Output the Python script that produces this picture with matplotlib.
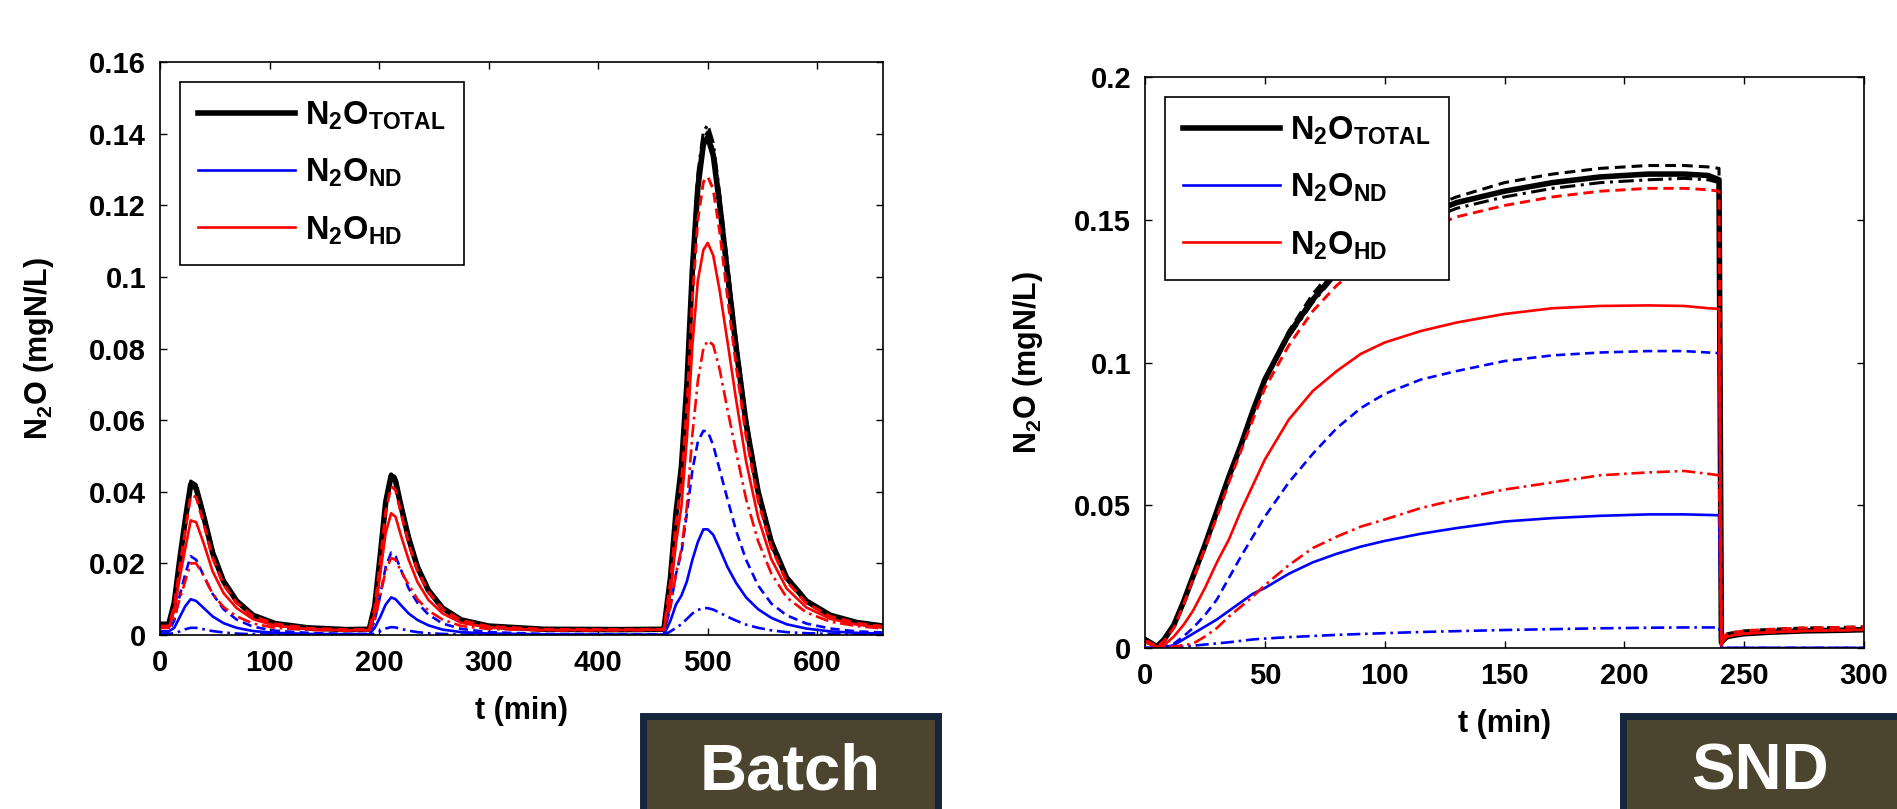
import matplotlib
matplotlib.use("Agg")
import matplotlib.pyplot as plt
from matplotlib.patches import Rectangle

plt.rcParams['font.family'] = ['Liberation Sans', 'DejaVu Sans']
plt.rcParams['font.weight'] = 'bold'
plt.rcParams['mathtext.fontset'] = 'custom'
plt.rcParams['mathtext.rm'] = 'Liberation Sans:bold'
plt.rcParams['mathtext.bf'] = 'Liberation Sans:bold'

# ---- Batch data (t in min, N2O in mgN/L) ----
t_batch = [0, 8, 13, 18, 23, 28, 33, 40, 48, 58, 70, 85, 105, 135, 170, 191, 196, 201, 206, 211,
           215, 220, 227, 235, 245, 258, 275, 300, 350, 420, 460, 466, 471, 476, 481, 486, 491, 496, 500, 505,
           511, 518, 526, 535, 546, 558, 572, 590, 612, 636, 660]

batch_total = [0.003, 0.003, 0.009, 0.021, 0.032, 0.042, 0.041, 0.033, 0.023, 0.015,
               0.0095, 0.0055, 0.0032, 0.0020, 0.0015, 0.0016, 0.008, 0.022, 0.037, 0.0445,
               0.043, 0.036, 0.027, 0.019, 0.0125, 0.0075, 0.0042, 0.0025, 0.0016, 0.0015,
               0.0016, 0.016, 0.034, 0.047, 0.070, 0.102, 0.125, 0.137, 0.139, 0.134,
               0.120, 0.101, 0.080, 0.059, 0.040, 0.026, 0.016, 0.0095, 0.0055, 0.0035, 0.0025]
batch_total_b = [0.003, 0.003, 0.009, 0.021, 0.032, 0.0425, 0.0415, 0.0335, 0.0235, 0.0153,
                 0.0097, 0.0056, 0.0033, 0.0020, 0.0015, 0.0016, 0.008, 0.022, 0.0375, 0.045,
                 0.0435, 0.0365, 0.0275, 0.0193, 0.0127, 0.0076, 0.0043, 0.0025, 0.0016, 0.0015,
                 0.0016, 0.016, 0.034, 0.047, 0.071, 0.103, 0.1265, 0.1385, 0.1405, 0.1355,
                 0.1215, 0.1025, 0.081, 0.060, 0.0405, 0.0263, 0.0162, 0.0096, 0.0056, 0.0035, 0.0025]
batch_total_c = [0.003, 0.003, 0.009, 0.021, 0.0325, 0.043, 0.042, 0.034, 0.024, 0.0155,
                 0.0098, 0.0057, 0.0033, 0.0020, 0.0015, 0.0016, 0.008, 0.0225, 0.038, 0.0455,
                 0.044, 0.037, 0.028, 0.0196, 0.0129, 0.0077, 0.0043, 0.0025, 0.0016, 0.0015,
                 0.0016, 0.016, 0.034, 0.048, 0.072, 0.105, 0.129, 0.1405, 0.1425, 0.1375,
                 0.123, 0.104, 0.0825, 0.061, 0.041, 0.0267, 0.0165, 0.0098, 0.0057, 0.0036, 0.0026]
batch_nd_a = [0.001, 0.001, 0.002, 0.005, 0.008, 0.010, 0.0095, 0.0075, 0.0052, 0.0033,
              0.002, 0.0011, 0.0006, 0.0003, 0.0002, 0.0002, 0.002, 0.005, 0.0085, 0.0105,
              0.010, 0.0083, 0.006, 0.0042, 0.0027, 0.0015, 0.0008, 0.0004, 0.0002, 0.0001,
              0.0001, 0.004, 0.0085, 0.011, 0.015, 0.021, 0.026, 0.0295, 0.0295, 0.028,
              0.024, 0.019, 0.0145, 0.0105, 0.0072, 0.0048, 0.003, 0.0018, 0.001, 0.0006, 0.0004]
batch_hd_a = [0.002, 0.002, 0.007, 0.016, 0.024, 0.032, 0.0315, 0.0255, 0.0178, 0.0117,
              0.0075, 0.0044, 0.0026, 0.0017, 0.0013, 0.0014, 0.006, 0.017, 0.0285, 0.034,
              0.033, 0.0277, 0.021, 0.0148, 0.0098, 0.006, 0.0034, 0.0021, 0.0014, 0.0014,
              0.0015, 0.012, 0.0255, 0.036, 0.055, 0.081, 0.099, 0.1075, 0.1095, 0.106,
              0.096, 0.082, 0.0655, 0.0485, 0.0328, 0.0212, 0.013, 0.0077, 0.0045, 0.0029, 0.0021]
batch_nd_b = [0.001, 0.001, 0.004, 0.011, 0.017, 0.022, 0.021, 0.0165, 0.0115, 0.0072,
              0.0043, 0.0023, 0.0012, 0.0006, 0.0003, 0.0003, 0.004, 0.011, 0.019, 0.023,
              0.022, 0.0182, 0.013, 0.009, 0.0057, 0.0032, 0.0017, 0.0008, 0.0003, 0.0002,
              0.0002, 0.008, 0.017, 0.023, 0.034, 0.046, 0.054, 0.057, 0.0568, 0.053,
              0.046, 0.038, 0.029, 0.021, 0.0138, 0.0088, 0.0055, 0.0032, 0.0018, 0.001, 0.0007]
batch_hd_b = [0.002, 0.002, 0.005, 0.010, 0.015, 0.020, 0.020, 0.0165, 0.0115, 0.0078,
              0.0052, 0.0032, 0.002, 0.0014, 0.0012, 0.0013, 0.004, 0.011, 0.018, 0.0215,
              0.021, 0.0178, 0.014, 0.010, 0.0068, 0.0043, 0.0025, 0.0017, 0.0013, 0.0013,
              0.0014, 0.008, 0.017, 0.024, 0.036, 0.056, 0.071, 0.080, 0.0822, 0.081,
              0.074, 0.063, 0.051, 0.038, 0.0262, 0.0172, 0.0105, 0.0063, 0.0037, 0.0025, 0.0018]
batch_nd_c = [0.0003, 0.0003, 0.0005, 0.001, 0.0016, 0.002, 0.002, 0.0016, 0.0011, 0.0007,
              0.0004, 0.0002, 0.0001, 0.0, 0.0, 0.0, 0.0004, 0.001, 0.0018, 0.0022,
              0.0021, 0.0017, 0.0012, 0.0008, 0.0005, 0.0003, 0.0001, 0.0, 0.0, 0.0,
              0.0, 0.001, 0.002, 0.003, 0.0045, 0.006, 0.007, 0.0075, 0.0075, 0.0071,
              0.0062, 0.0051, 0.004, 0.0029, 0.002, 0.0013, 0.0008, 0.0005, 0.0003, 0.0002, 0.0001]
batch_hd_c = [0.0025, 0.0025, 0.008, 0.019, 0.029, 0.039, 0.0385, 0.031, 0.0215, 0.014,
              0.009, 0.0052, 0.0031, 0.0019, 0.0015, 0.0016, 0.0075, 0.0205, 0.0345, 0.0415,
              0.0405, 0.034, 0.0255, 0.018, 0.012, 0.0072, 0.0041, 0.0024, 0.0016, 0.0015,
              0.0016, 0.015, 0.031, 0.043, 0.064, 0.094, 0.116, 0.1265, 0.128, 0.1245,
              0.1125, 0.0945, 0.075, 0.0555, 0.0375, 0.0245, 0.015, 0.0089, 0.0052, 0.0033, 0.0024]

# ---- SND data ----
t_snd = [0, 2, 5, 8, 12, 16, 20, 25, 30, 35, 40, 45, 50, 60, 70, 80, 90, 100, 115, 130,
         150, 170, 190, 210, 225, 235, 239.5, 240.5, 241.5, 243, 246, 250, 260, 275, 290, 300]

snd_total = [0.003, 0.002, 0.0005, 0.003, 0.008, 0.016, 0.025, 0.036, 0.048, 0.060,
             0.071, 0.083, 0.094, 0.110, 0.122, 0.132, 0.139, 0.145, 0.151, 0.156,
             0.160, 0.163, 0.165, 0.166, 0.166, 0.1655, 0.164, 0.002, 0.003, 0.004,
             0.0045, 0.005, 0.0055, 0.006, 0.0062, 0.0064]
snd_total_b = [0.003, 0.002, 0.0005, 0.003, 0.008, 0.016, 0.025, 0.036, 0.048, 0.060,
               0.071, 0.083, 0.094, 0.111, 0.124, 0.134, 0.141, 0.147, 0.153, 0.158,
               0.163, 0.166, 0.168, 0.169, 0.169, 0.1685, 0.168, 0.002, 0.004, 0.005,
               0.0055, 0.006, 0.0065, 0.007, 0.0072, 0.0074]
snd_total_c = [0.003, 0.002, 0.0005, 0.003, 0.008, 0.016, 0.025, 0.036, 0.048, 0.060,
               0.071, 0.083, 0.094, 0.109, 0.121, 0.131, 0.138, 0.143, 0.149, 0.154,
               0.158, 0.161, 0.163, 0.164, 0.1645, 0.164, 0.163, 0.002, 0.003, 0.004,
               0.0045, 0.005, 0.0055, 0.006, 0.0062, 0.0064]
snd_nd_a = [0.0, 0.0, 0.0, 0.0002, 0.001, 0.003, 0.005, 0.0075, 0.010, 0.013,
            0.016, 0.019, 0.021, 0.026, 0.030, 0.033, 0.0355, 0.0375, 0.040, 0.042,
            0.0443, 0.0455, 0.0463, 0.0468, 0.0468, 0.0466, 0.0465, 0.0, 0.0, 0.0,
            0.0, 0.0, 0.0, 0.0, 0.0, 0.0]
snd_hd_a = [0.002, 0.0015, 0.0003, 0.001, 0.004, 0.008, 0.013, 0.021, 0.030, 0.038,
            0.048, 0.057, 0.066, 0.080, 0.090, 0.097, 0.103, 0.107, 0.111, 0.114,
            0.117, 0.119, 0.1198, 0.120, 0.1198, 0.119, 0.1188, 0.001, 0.003, 0.004,
            0.0045, 0.005, 0.0055, 0.006, 0.0062, 0.0064]
snd_nd_b = [0.0, 0.0, 0.0, 0.0003, 0.0015, 0.004, 0.007, 0.0115, 0.017, 0.0245,
            0.032, 0.039, 0.046, 0.058, 0.068, 0.077, 0.084, 0.089, 0.094, 0.097,
            0.1005, 0.1025, 0.1035, 0.104, 0.104, 0.1035, 0.1033, 0.0, 0.0, 0.0,
            0.0, 0.0, 0.0, 0.0, 0.0, 0.0]
snd_hd_b = [0.002, 0.0015, 0.0003, 0.0003, 0.0005, 0.001, 0.0015, 0.004, 0.007, 0.011,
            0.0145, 0.018, 0.022, 0.029, 0.035, 0.039, 0.0425, 0.045, 0.049, 0.052,
            0.0555, 0.058, 0.0605, 0.0615, 0.062, 0.061, 0.0605, 0.001, 0.003, 0.004,
            0.0045, 0.005, 0.0055, 0.006, 0.0062, 0.0064]
snd_nd_c = [0.0, 0.0, 0.0, 0.0, 0.0002, 0.0005, 0.0008, 0.0012, 0.0016, 0.002,
            0.0025, 0.003, 0.0033, 0.0038, 0.0042, 0.0046, 0.0049, 0.0052, 0.0056, 0.0059,
            0.0063, 0.0066, 0.0069, 0.0071, 0.0072, 0.0072, 0.0072, 0.0, 0.0, 0.0,
            0.0, 0.0, 0.0, 0.0, 0.0, 0.0]
snd_hd_c = [0.0025, 0.002, 0.0004, 0.0025, 0.007, 0.015, 0.024, 0.035, 0.046, 0.058,
            0.069, 0.080, 0.091, 0.106, 0.118, 0.127, 0.134, 0.140, 0.146, 0.151,
            0.155, 0.158, 0.160, 0.161, 0.161, 0.1605, 0.160, 0.001, 0.004, 0.005,
            0.0055, 0.006, 0.0065, 0.007, 0.0072, 0.0074]

batch_xticks = [0, 100, 200, 300, 400, 500, 600]
batch_yticks = [0, 0.02, 0.04, 0.06, 0.08, 0.1, 0.12, 0.14, 0.16]
snd_xticks = [0, 50, 100, 150, 200, 250, 300]
snd_yticks = [0, 0.05, 0.1, 0.15, 0.2]
legend_labels = [r'N$_\mathbf{2}$O$_\mathbf{TOTAL}$', r'N$_\mathbf{2}$O$_\mathbf{ND}$',
                 r'N$_\mathbf{2}$O$_\mathbf{HD}$']

W, H = 1897, 809
fig = plt.figure(figsize=(W / 100, H / 100), dpi=100)
fig.patch.set_facecolor('white')

DASH = (0, (3.5, 2))
DASHDOT = (0, (5, 1.8, 1, 1.8))


def draw_panel(ax, t, tot, tot_b, tot_c, nd_a, hd_a, nd_b, hd_b, nd_c, hd_c):
    h_tot, = ax.plot(t, tot, color='black', lw=4.0, solid_joinstyle='round')
    ax.plot(t, tot_b, color='black', lw=2.2, ls=DASH)
    ax.plot(t, tot_c, color='black', lw=2.2, ls=DASHDOT)
    h_nd, = ax.plot(t, nd_a, color='#0000ff', lw=1.9)
    ax.plot(t, nd_b, color='#0000ff', lw=1.9, ls=DASH)
    ax.plot(t, nd_c, color='#0000ff', lw=1.9, ls=DASHDOT)
    h_hd, = ax.plot(t, hd_a, color='#ff0000', lw=1.9)
    ax.plot(t, hd_b, color='#ff0000', lw=1.9, ls=DASHDOT)
    ax.plot(t, hd_c, color='#ff0000', lw=2.1, ls=DASH)
    leg = ax.legend([h_tot, h_nd, h_hd], legend_labels, loc='upper left', fontsize=23.5,
                    frameon=True, fancybox=False, framealpha=1, edgecolor='black',
                    handlelength=3.0, handletextpad=0.3, labelspacing=0.75,
                    borderpad=0.55, borderaxespad=0.6)
    leg.get_frame().set_linewidth(1.2)
    ax.tick_params(direction='in', top=True, right=True, length=5, width=1,
                   labelsize=21, pad=10)
    for s in ax.spines.values():
        s.set_linewidth(1.2)
    ax.set_xlabel('t (min)', fontsize=22, fontweight='bold', labelpad=14)
    ax.set_ylabel(r'N$_\mathbf{2}$O (mgN/L)', fontsize=22, fontweight='bold')
    ax.yaxis.set_major_formatter(plt.FuncFormatter(lambda v, p: f'{v:g}'))
    ax.xaxis.set_major_formatter(plt.FuncFormatter(lambda v, p: f'{v:g}'))


ax1 = fig.add_axes([160 / W, 1 - 635 / H, (883 - 160) / W, (635 - 62) / H])
draw_panel(ax1, t_batch, batch_total, batch_total_b, batch_total_c,
           batch_nd_a, batch_hd_a, batch_nd_b, batch_hd_b, batch_nd_c, batch_hd_c)
ax1.set_xlim(0, 660)
ax1.set_ylim(0, 0.16)
ax1.set_xticks(batch_xticks)
ax1.set_yticks(batch_yticks)
ax1.yaxis.set_label_coords(-104 / 723, 0.5)

ax2 = fig.add_axes([1145 / W, 1 - 648 / H, (1864 - 1145) / W, (648 - 77) / H])
draw_panel(ax2, t_snd, snd_total, snd_total_b, snd_total_c,
           snd_nd_a, snd_hd_a, snd_nd_b, snd_hd_b, snd_nd_c, snd_hd_c)
ax2.set_xlim(0, 300)
ax2.set_ylim(0, 0.2)
ax2.set_xticks(snd_xticks)
ax2.set_yticks(snd_yticks)
ax2.yaxis.set_label_coords(-100 / 719, 0.5)

# label boxes under the panels
for x0, x1, txt in [(643, 938, 'Batch'), (1623, 1905, 'SND')]:
    fig.patches.append(Rectangle((x0 / W, -0.02), (x1 - x0) / W, (809 - 716) / H + 0.02,
                                 transform=fig.transFigure, facecolor='#4b4530',
                                 edgecolor='#15253b', linewidth=5, zorder=5))
    fig.text((x0 + min(x1, W)) / 2 / W, 1 - 773 / H, txt, color='white', fontsize=47,
             fontweight='bold', ha='center', va='center', zorder=6)

fig.savefig('out.png', dpi=100)
